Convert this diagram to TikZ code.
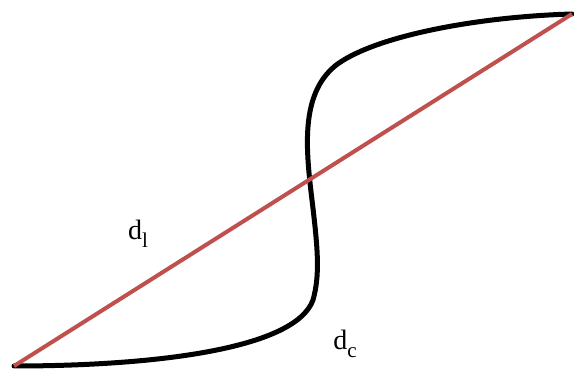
\documentclass[tikz,border=0pt]{standalone}
\usepackage{fontspec}
\setmainfont{Liberation Serif}
\usepackage{xcolor}
\usetikzlibrary{calc}
\definecolor{linered}{HTML}{C0504D}
\newcommand{\sublbl}[1]{\raisebox{-0.28em}{\fontsize{21}{22}\selectfont #1}}

\begin{document}
\begin{tikzpicture}[
  x=1pt, y=-1pt,
  curve/.style={line width=5pt, black, line cap=round},
  straight/.style={line width=4pt, linered},
  lbl/.style={font=\fontsize{28}{30}\selectfont, inner sep=0pt}
]
\useasboundingbox (0,0) rectangle (574,371);

% End points
\coordinate (lo) at (14,366);
\coordinate (hi) at (572,14);

% Curve
\draw[curve] (lo) .. controls (150,366) and (295,350) .. (313,300)
  .. controls (320,275) and (318,250) .. (312,200)
  .. controls (306,150) and (300,95) .. (335,66)
  .. controls (370,38) and (470,17) .. (hi);

% Line
\draw[straight] (lo) -- (hi);

% Labels
\node[lbl] (dl) at (138,234) {d\sublbl{l}};
\node[lbl] (dc) at (345,344) {d\sublbl{c}};

\end{tikzpicture}
\end{document}
